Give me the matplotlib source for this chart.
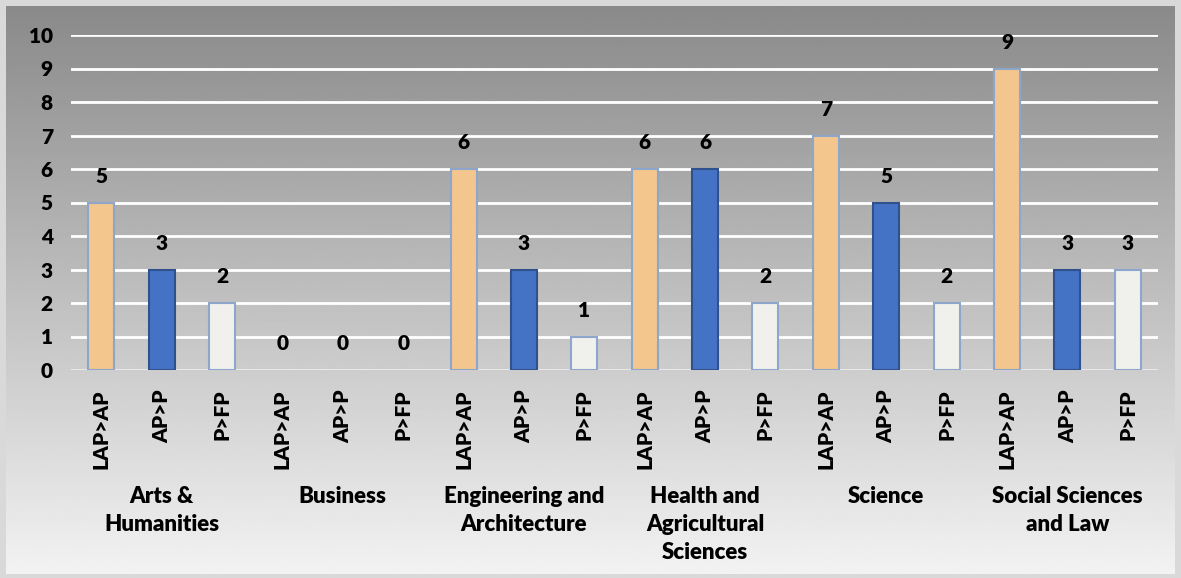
import matplotlib
matplotlib.use('Agg')
import matplotlib.pyplot as plt
import numpy as np

plt.rcParams['font.family'] = ['Lato', 'DejaVu Sans']
plt.rcParams['font.weight'] = 'bold'

groups = ['Arts &\nHumanities', 'Business', 'Engineering and\nArchitecture',
          'Health and\nAgricultural\nSciences', 'Science', 'Social Sciences\nand Law']
series = ['LAP>AP', 'AP>P', 'P>FP']
lap_ap = [5, 0, 6, 6, 7, 9]
ap_p = [3, 0, 3, 6, 5, 3]
p_fp = [2, 0, 1, 2, 2, 3]

faces = ['#F2C68C', '#4472C4', '#F0F1EC']
edges = ['#8FA6CC', '#2F528F', '#8FA6CC']

W, H = 1181, 578
fig = plt.figure(figsize=(W / 100, H / 100), dpi=100)
fig.patch.set_facecolor('#d9d9d9')

# gradient backdrop inside a thin border
bg = fig.add_axes([6 / W, 4 / H, 1 - 12 / W, 1 - 10 / H])
grad = np.linspace(0.54, 0.95, 256).reshape(-1, 1)
bg.imshow(grad, cmap='gray', vmin=0, vmax=1, aspect='auto', extent=[0, 1, 1, 0])
bg.axis('off')

left, right = 71 / W, 1158 / W
bottom, top = 1 - 370 / H, 1 - 35 / H
ax = fig.add_axes([left, bottom, right - left, top - bottom])
ax.set_facecolor('none')

vals = [lap_ap, ap_p, p_fp]
pos, labels = [], []
width = 0.43
for g in range(len(groups)):
    for s in range(3):
        x = g * 3 + s + 0.5
        v = vals[s][g]
        ax.bar(x, v, width, color=faces[s], edgecolor=edges[s],
               linewidth=1.5 if v else 0, zorder=3)
        ax.text(x, v + 0.5, str(v), ha='center', va='bottom', fontsize=15,
                fontweight='heavy', color='black')
        pos.append(x)
        labels.append(series[s])

ax.set_xlim(0, 18)
ax.set_ylim(0, 10)
ax.set_yticks(range(11))
ax.grid(axis='y', color='white', linewidth=2, zorder=0)
ax.set_axisbelow(True)
for sp in ax.spines.values():
    sp.set_visible(False)
ax.axhline(0, color='#e6e6e6', linewidth=2, zorder=2)

ax.tick_params(axis='y', length=0, labelsize=15, pad=13)
for t in ax.get_yticklabels():
    t.set_fontweight('heavy')
ax.set_xticks(pos)
ax.set_xticklabels(labels, rotation=90, fontsize=15, fontweight='heavy')
ax.tick_params(axis='x', length=0, pad=14)

for g, name in enumerate(groups):
    ax.text(g * 3 + 1.5, -3.45, name, ha='center', va='top', fontsize=16,
            fontweight='heavy', linespacing=1.42, transform=ax.transData)

fig.savefig('out.png', dpi=100)
